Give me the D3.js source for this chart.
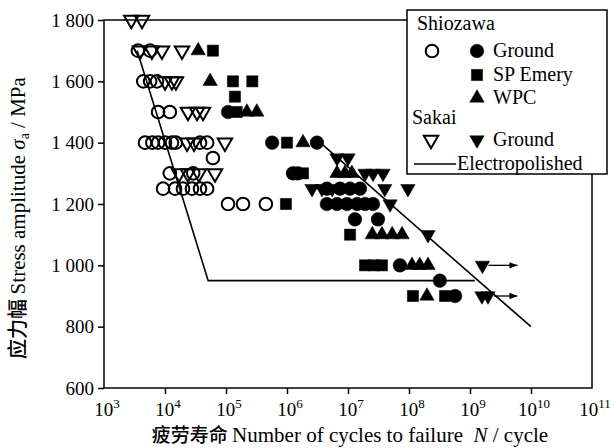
<!DOCTYPE html>
<html><head><meta charset="utf-8">
<script src="https://cdn.jsdelivr.net/npm/d3@7"></script>
<style>body{margin:0;background:#fff}text{font-family:"Liberation Serif","Times New Roman",serif;fill:#000}</style>
</head><body><svg id="c" width="616" height="448"></svg>
<script>
// ---- tick labels ----
const xTickExps = [3,4,5,6,7,8,9,10,11];
const yTicks = [600,800,1000,1200,1400,1600,1800];
const yTickLabels = ["600","800","1 000","1 200","1 400","1 600","1 800"];

// ---- data: [cycles N, stress amplitude MPa] ----
const shioOpen = [[3.6e3,1700],[5.7e3,1700],
  [4.4e3,1600],[5.7e3,1600],[7.4e3,1600],
  [7.7e3,1500],[1.2e4,1500],
  [4.7e3,1400],[6.2e3,1400],[7.7e3,1400],[1.0e4,1400],[1.3e4,1400],[1.5e4,1400],[3.75e4,1400],[4.9e4,1400],
  [6.1e4,1350],
  [1.2e4,1300],[2.9e4,1300],
  [9.3e3,1250],[1.46e4,1250],[1.97e4,1250],[2.77e4,1250],[3.75e4,1250],[4.9e4,1250],
  [1.08e5,1200],[1.9e5,1200],[4.5e5,1200]];
const shioGround = [[1.08e5,1500],
  [5.7e5,1400],[3.1e6,1400],
  [1.25e6,1300],[1.5e6,1300],
  [4.5e6,1250],[7.4e6,1250],[1.08e7,1250],[1.57e7,1250],
  [4.5e6,1200],[6.6e6,1200],[9.6e6,1200],[1.41e7,1200],[1.9e7,1200],[2.57e7,1200],
  [1.3e7,1150],[3.1e7,1150],
  [7.1e7,1000],[3.2e8,950],[5.7e8,900]];
const shioSPEmery = [[6.1e4,1700],[1.3e5,1600],[2.7e5,1600],[1.4e5,1550],[1.5e5,1500],
  [1.0e6,1400],[1.83e6,1300],[9.6e5,1200],[1.08e7,1100],
  [1.9e7,1000],[2.67e7,1000],[3.6e7,1000],[1.16e8,900],[3.9e8,900]];
const shioWPC = [[3.5e4,1700],[5.5e4,1600],[2.2e5,1500],[3.2e5,1500],[1.83e6,1400],
  [6.6e6,1300],[8.9e6,1300],[1.16e7,1300],
  [2.5e7,1100],[3.6e7,1100],[5.3e7,1100],[7.7e7,1100],
  [1.12e8,1000],[1.5e8,1000],[2.05e8,1000],[1.97e8,900]];
const sakaiOpen = [[2.8e3,1800],[4.2e3,1800],
  [3.9e3,1700],[6.1e3,1700],[8.9e3,1700],[1.9e4,1700],
  [1.0e4,1600],[1.3e4,1600],[1.51e4,1600],
  [2.38e4,1500],[3.35e4,1500],[4.2e4,1500],
  [2.3e4,1400],[2.99e4,1400],[9.6e4,1400],
  [1.7e4,1300],[2.38e4,1300],[3.6e4,1300],[6.6e4,1300]];
const sakaiGround = [[6.6e6,1350],[1.0e7,1350],
  [1.9e7,1300],[2.57e7,1300],[3.75e7,1300],
  [2.57e6,1250],[3.75e6,1250],[5.5e6,1250],[4.0e7,1250],[9.6e7,1250],
  [4.9e7,1200],[2.05e8,1100],
  [1.6e9,1000],[1.57e9,900],[1.97e9,900]];
const runouts = [[1.6e9,1000],[1.97e9,900]];
const runoutEndN = 6e9;
const electropolished = [[3.5e3,1700],[5.1e4,950],[1.2e9,950]];
const groundTrend = [[3.5e6,1400],[1.0e10,800]];

// ---- layout ----
const svg = d3.select("#c");
const L=104, R=592, T=20, B=388;
const x = d3.scaleLog().domain([1e3,1e11]).range([L,R]);
const y = d3.scaleLinear().domain([600,1800]).range([B,T]);

// frame
svg.append("rect").attr("x",L).attr("y",T).attr("width",R-L).attr("height",B-T)
  .attr("fill","none").attr("stroke","#000").attr("stroke-width",1.5);

// y axis
const ya = svg.append("g").attr("transform",`translate(${L},0)`)
  .call(d3.axisLeft(y).tickValues(yTicks).tickSize(6).tickPadding(4)
    .tickFormat((d,i)=>yTickLabels[i]));
ya.select(".domain").remove();
ya.selectAll("line").attr("stroke-width",1.5);
ya.selectAll("text").style("font-family","Liberation Serif").style("font-size","19px");

// x axis
const xa = svg.append("g").attr("transform",`translate(0,${B})`)
  .call(d3.axisBottom(x).tickValues(xTickExps.slice(1,-1).map(e=>Math.pow(10,e))).tickSize(6).tickFormat(""));
xa.select(".domain").remove();
xa.selectAll("line").attr("stroke-width",1.5);
const xl = svg.append("g");
xTickExps.forEach(e=>{
  const t = xl.append("text").attr("x",x(Math.pow(10,e))+3).attr("y",416)
    .attr("text-anchor","middle").style("font-size","19px");
  t.append("tspan").text("10");
  t.append("tspan").attr("dy",-8).style("font-size","13px").text(e);
});

// lines
const line = d3.line().x(d=>x(d[0])).y(d=>y(d[1]));
svg.append("path").datum(electropolished).attr("d",line).attr("fill","none").attr("stroke","#000").attr("stroke-width",1.6);
svg.append("path").datum(groundTrend).attr("d",line).attr("fill","none").attr("stroke","#000").attr("stroke-width",1.6);

// runout arrows
svg.append("defs").append("marker").attr("id","ah").attr("viewBox","0 0 10 10")
  .attr("refX",10).attr("refY",5).attr("markerWidth",10).attr("markerHeight",8)
  .attr("markerUnits","userSpaceOnUse").attr("orient","auto")
  .append("path").attr("d","M0,1 L10,5 L0,9 Z").attr("fill","#000");
svg.selectAll(".ro").data(runouts).join("line")
  .attr("x1",d=>x(d[0])+6).attr("y1",d=>y(d[1])).attr("x2",x(runoutEndN)).attr("y2",d=>y(d[1]))
  .attr("stroke","#000").attr("stroke-width",1.3).attr("marker-end","url(#ah)");

// markers
const sym = {
  ocircle: d3.symbol().type(d3.symbolCircle).size(125),
  circle: d3.symbol().type(d3.symbolCircle).size(145),
  square: d3.symbol().type(d3.symbolSquare).size(125),
  tri: d3.symbol().type(d3.symbolTriangle).size(90)
};
function draw(data, kind, filled, down){
  svg.append("g").selectAll("path").data(data).join("path")
    .attr("d", sym[kind]())
    .attr("transform", d=>`translate(${x(d[0])},${y(d[1])})${down?" rotate(180)":""}`)
    .attr("fill", filled?"#000":"#fff").attr("fill-opacity", filled?1:0)
    .attr("stroke","#000").attr("stroke-width", filled?0.5:2);
}
draw(shioOpen,"ocircle",false,false);
draw(sakaiOpen,"tri",false,true);
draw(shioGround,"circle",true,false);
draw(shioSPEmery,"square",true,false);
draw(shioWPC,"tri",true,false);
draw(sakaiGround,"tri",true,true);

// legend
const lg = svg.append("g");
lg.append("rect").attr("x",407).attr("y",10).attr("width",200).attr("height",164)
  .attr("fill","#fff").attr("stroke","#000").attr("stroke-width",1.5);
function lsym(px,py,kind,filled,down){
  lg.append("path").attr("d",sym[kind]()).attr("transform",`translate(${px},${py})${down?" rotate(180)":""}`)
    .attr("fill",filled?"#000":"none").attr("stroke","#000").attr("stroke-width",filled?0.5:2);
}
function ltxt(px,py,s){ lg.append("text").attr("x",px).attr("y",py).style("font-size","20px").text(s); }
ltxt(417,30,"Shiozawa");
lsym(432,51,"ocircle",false,false); lsym(477,51,"circle",true,false); ltxt(493,57,"Ground");
lsym(477,75,"square",true,false); ltxt(493,81,"SP Emery");
lsym(477,98,"tri",true,false); ltxt(493,104,"WPC");
ltxt(412,124,"Sakai");
lsym(431,140,"tri",false,true); lsym(477,140,"tri",true,true); ltxt(493,146,"Ground");
lg.append("line").attr("x1",414).attr("x2",456).attr("y1",164).attr("y2",164).attr("stroke","#000").attr("stroke-width",1.5);
ltxt(457,170,"Electropolished");

// axis titles
const yt = svg.append("text").attr("transform","translate(25,218) rotate(-90)").attr("text-anchor","middle").style("font-size","21px");
yt.append("tspan").style("font-family","Noto Sans CJK SC").style("font-weight","500").style("font-size","20px").text("应力幅 ");
yt.append("tspan").text("Stress amplitude ");
yt.append("tspan").style("font-style","italic").text("σ");
yt.append("tspan").attr("dy",4).style("font-size","14px").text("a");
yt.append("tspan").attr("dy",-4).text(" / MPa");

const xt = svg.append("text").attr("x",350).attr("y",442).attr("text-anchor","middle").style("font-size","21px");
xt.append("tspan").style("font-family","Noto Sans CJK SC").style("font-weight","500").style("font-size","19px").text("疲劳寿命 ");
xt.append("tspan").text("Number of cycles to failure\u00a0\u00a0");
xt.append("tspan").style("font-style","italic").text("N");
xt.append("tspan").text(" / cycle");
</script></body></html>
